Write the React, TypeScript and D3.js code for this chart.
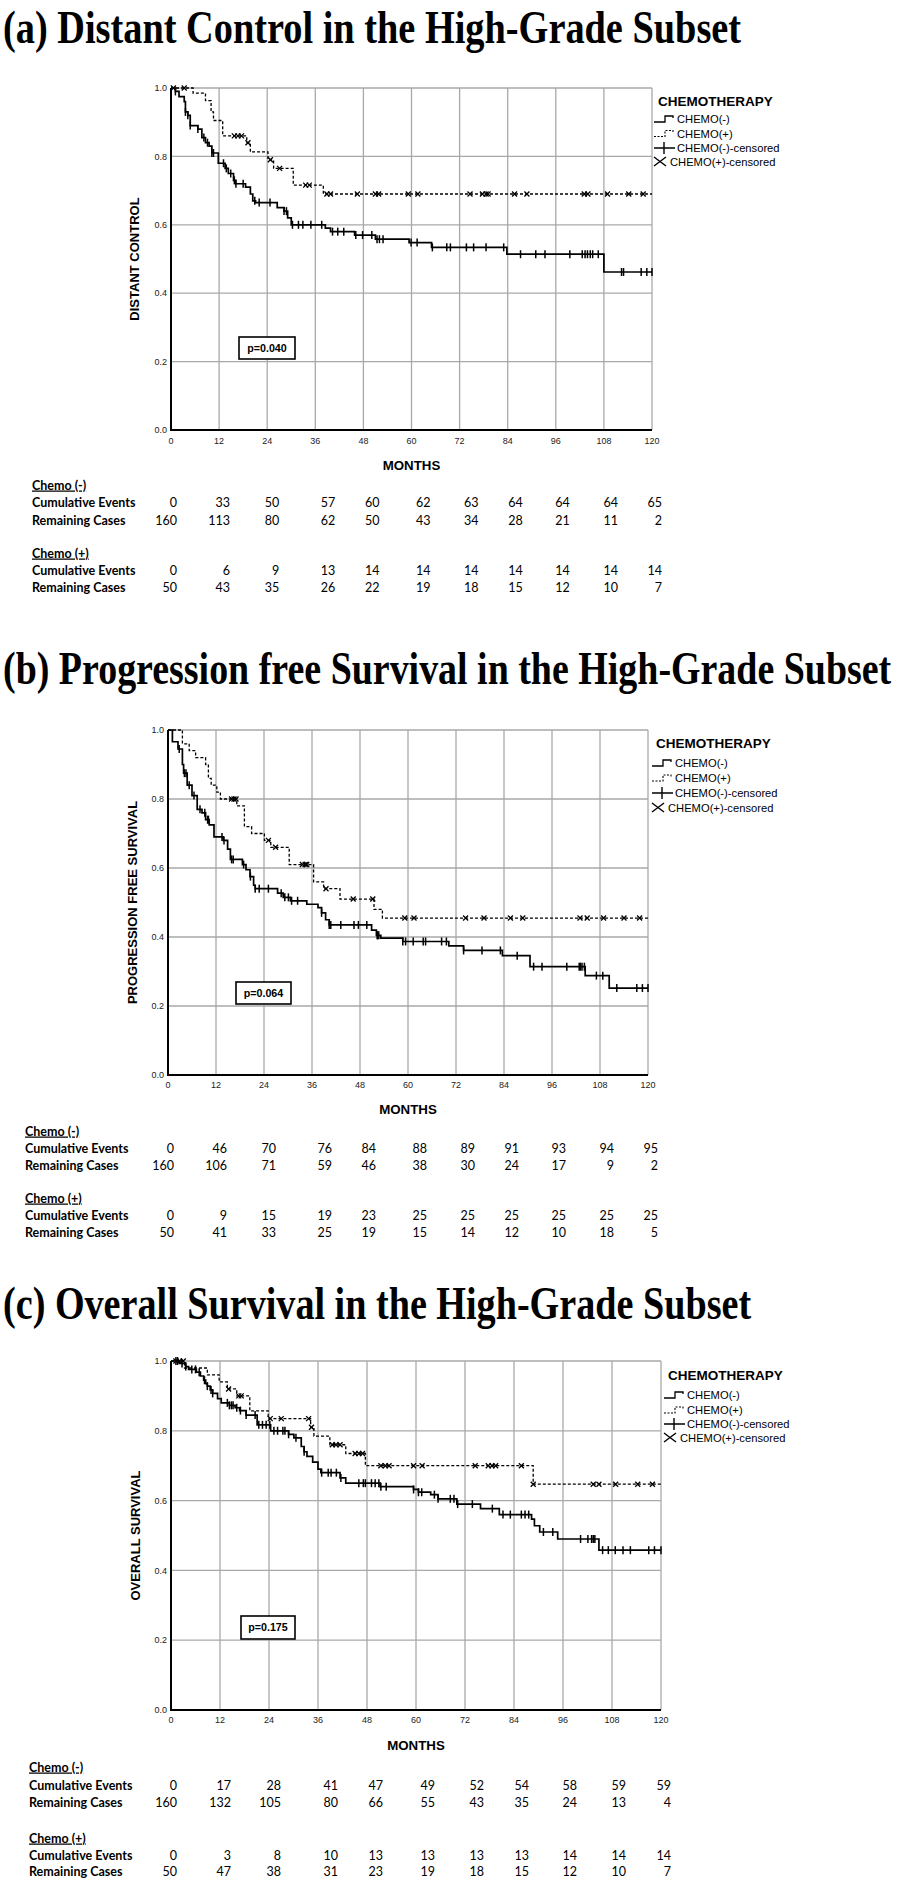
import React from 'react';
import * as d3 from 'd3';

// ---------- shared ticks ----------
const monthTicks = [0, 12, 24, 36, 48, 60, 72, 84, 96, 108, 120];
const survTicks = [0, 0.2, 0.4, 0.6, 0.8, 1.0];
const legendLabels = ['CHEMO(-)', 'CHEMO(+)', 'CHEMO(-)-censored', 'CHEMO(+)-censored'];
const tableRowLabels = ['Cumulative Events', 'Remaining Cases'];

// ---------- (a) Distant control ----------
const dcNegT = [1.1, 2, 3.3, 3.6, 4.2, 4.8, 6.7, 7.7, 8.6, 9.5, 10.2, 11.8, 13.5, 14.3, 15.6, 16.1, 18.6, 19.8, 20.4, 21.1, 26.5, 28.2, 29.1, 30, 38.5, 39.8, 45.8, 51, 59.4, 65, 83.8, 108];
const dcNegS = [0.99, 0.975, 0.96, 0.93, 0.92, 0.89, 0.88, 0.855, 0.84, 0.83, 0.81, 0.78, 0.765, 0.75, 0.73, 0.72, 0.71, 0.69, 0.67, 0.665, 0.65, 0.64, 0.62, 0.60, 0.59, 0.58, 0.57, 0.558, 0.548, 0.534, 0.514, 0.462];
const dcNegC = [1.1, 3.6, 4.2, 4.8, 6.7, 8.2, 9.1, 10.2, 10.6, 13.1, 13.8, 14.9, 15.8, 16.2, 18.0, 20.9, 22.0, 24.7, 28.2, 28.8, 30.3, 31.8, 32.9, 34.9, 37.6, 40.3, 41.6, 43.1, 46.1, 47.8, 50.1, 51.4, 52.0, 52.9, 59.9, 61.4, 65.2, 68.8, 69.7, 73.7, 75.5, 78.6, 83.0, 87.2, 91.0, 93.3, 99.5, 102.6, 103.3, 103.9, 104.6, 105.2, 106.6, 112.4, 112.9, 117.3, 118.7, 120];
const dcPosT = [5.5, 8.6, 10, 10.6, 12.9, 18.9, 19.8, 24.2, 25.6, 30.5, 38];
const dcPosS = [0.985, 0.963, 0.93, 0.905, 0.86, 0.84, 0.813, 0.79, 0.765, 0.716, 0.69];
const dcPosC = [0.6, 3.3, 15.8, 16.7, 17.6, 19.2, 24.8, 27.1, 33.6, 34.5, 38.9, 39.8, 46.5, 51, 51.8, 59.2, 61.6, 74.6, 77.7, 78.6, 79.1, 85.7, 88.8, 103.1, 104, 108.9, 114.2, 117.8];
const dcNegEvents = [0, 33, 50, 57, 60, 62, 63, 64, 64, 64, 65];
const dcNegRemain = [160, 113, 80, 62, 50, 43, 34, 28, 21, 11, 2];
const dcPosEvents = [0, 6, 9, 13, 14, 14, 14, 14, 14, 14, 14];
const dcPosRemain = [50, 43, 35, 26, 22, 19, 18, 15, 12, 10, 7];

// ---------- (b) Progression free survival ----------
const pfsNegT = [1.1, 2.5, 3.6, 3.9, 4.8, 6.0, 7.3, 8.5, 9.4, 10.3, 11.5, 13.8, 14.9, 15.6, 18.6, 19.5, 20.5, 21.4, 21.8, 27.4, 28.8, 30.6, 34.7, 37.5, 38.4, 39.4, 40.3, 50.9, 52.1, 53.2, 58.7, 70.2, 73.9, 83.6, 90.5, 104.3, 110.3];
const pfsNegS = [0.966, 0.945, 0.90, 0.875, 0.84, 0.81, 0.77, 0.76, 0.74, 0.725, 0.69, 0.68, 0.655, 0.625, 0.61, 0.595, 0.575, 0.55, 0.54, 0.527, 0.515, 0.505, 0.495, 0.485, 0.47, 0.45, 0.435, 0.42, 0.405, 0.397, 0.387, 0.374, 0.361, 0.346, 0.314, 0.288, 0.252];
const pfsNegC = [2.8, 4.1, 4.5, 5.3, 6.5, 8.0, 9.2, 9.9, 10.1, 13.5, 14.0, 15.9, 16.3, 18.9, 20.6, 21.8, 22.8, 25.1, 28.3, 29.2, 30.1, 30.9, 32.4, 38.4, 40.3, 40.7, 43.2, 46.5, 47.6, 49.7, 52.3, 52.4, 52.7, 58.7, 59.4, 61.3, 63.8, 64.4, 68.4, 69.6, 73.9, 78.5, 83.1, 87.3, 91.4, 93.5, 99.7, 102.8, 103.1, 103.5, 104.1, 107.1, 108.7, 112.2, 117.2, 118.6, 120];
const pfsPosT = [3.6, 5.3, 6.9, 9.4, 10.1, 10.8, 12.2, 13.1, 17.2, 19.1, 20.9, 24.1, 25.7, 30.3, 36.4, 38.9, 43.0, 51.5, 53.6];
const pfsPosS = [0.96, 0.94, 0.92, 0.90, 0.86, 0.84, 0.82, 0.80, 0.78, 0.72, 0.70, 0.68, 0.66, 0.61, 0.56, 0.54, 0.51, 0.48, 0.455];
const pfsPosC = [15.9, 16.5, 17.0, 25.1, 26.9, 33.6, 34.3, 34.7, 39.5, 46.3, 51.2, 59.2, 61.5, 74.4, 79.0, 85.6, 88.7, 103, 104.8, 108.9, 114, 117.9];
const pfsNegEvents = [0, 46, 70, 76, 84, 88, 89, 91, 93, 94, 95];
const pfsNegRemain = [160, 106, 71, 59, 46, 38, 30, 24, 17, 9, 2];
const pfsPosEvents = [0, 9, 15, 19, 23, 25, 25, 25, 25, 25, 25];
const pfsPosRemain = [50, 41, 33, 25, 19, 15, 14, 12, 10, 18, 5];

// ---------- (c) Overall survival ----------
const osNegT = [2.1, 3.6, 4.3, 6.2, 7.2, 8.0, 8.5, 8.9, 9.6, 10.2, 11.4, 12.3, 14.3, 15.7, 16.8, 18.4, 21.1, 24.4, 28.8, 30.1, 31.9, 32.6, 33.3, 34.7, 36.0, 36.7, 41.4, 42.8, 51.2, 59.4, 60.6, 63.6, 65.4, 70.0, 75.8, 80.4, 88.3, 89.0, 90.3, 94.7, 104.8];
const osNegS = [0.993, 0.984, 0.976, 0.968, 0.957, 0.945, 0.935, 0.928, 0.917, 0.907, 0.892, 0.88, 0.873, 0.866, 0.858, 0.845, 0.817, 0.80, 0.79, 0.78, 0.755, 0.74, 0.727, 0.71, 0.69, 0.68, 0.665, 0.65, 0.64, 0.632, 0.624, 0.617, 0.605, 0.59, 0.577, 0.56, 0.547, 0.528, 0.51, 0.49, 0.458];
const osNegC = [1.2, 1.6, 2.7, 3.6, 5.1, 6.0, 6.9, 8.2, 8.9, 9.8, 10.2, 13.8, 14.3, 14.8, 15.2, 16.1, 17.0, 18.4, 20.6, 21.5, 22.4, 23.3, 24.2, 25.2, 26.1, 27.4, 27.9, 28.8, 30.6, 32.6, 36.9, 38.5, 39.2, 40.5, 41.6, 46.0, 47.1, 47.6, 49.1, 50.0, 50.9, 51.4, 52.7, 59.4, 60.6, 61.4, 64.5, 65.4, 68.4, 69.3, 70.2, 73.8, 78.7, 81.3, 83.1, 85.8, 86.7, 87.6, 91.2, 93.5, 100.3, 102.1, 103.0, 103.4, 103.8, 105.7, 107.1, 108.8, 110.7, 112.5, 117.0, 118.4, 120];
const osPosT = [3.3, 8.9, 11.8, 13.8, 16.1, 19.3, 23.8, 34.2, 35.0, 38.9, 42.8, 47.6, 88.7];
const osPosS = [0.98, 0.96, 0.94, 0.92, 0.90, 0.857, 0.835, 0.81, 0.785, 0.76, 0.735, 0.70, 0.647];
const osPosC = [1.2, 2.1, 3.0, 14.1, 16.6, 17.2, 24.3, 27.0, 33.7, 34.4, 39.5, 40.4, 41.4, 45.1, 46.0, 46.9, 51.4, 52.5, 53.4, 59.4, 61.5, 74.5, 77.7, 78.6, 79.5, 85.8, 88.7, 103.4, 104.8, 108.9, 114.3, 117.9];
const osNegEvents = [0, 17, 28, 41, 47, 49, 52, 54, 58, 59, 59];
const osNegRemain = [160, 132, 105, 80, 66, 55, 43, 35, 24, 13, 4];
const osPosEvents = [0, 3, 8, 10, 13, 13, 13, 13, 14, 14, 14];
const osPosRemain = [50, 47, 38, 31, 23, 19, 18, 15, 12, 10, 7];

// ---------- panel configs (layout + references to data) ----------
const colShift = [6, 11, 12, 20, 16, 19, 19, 15, 14, 14, 10];

const panels = [
  {
    id: 'a', title: '(a) Distant Control in the High-Grade Subset', titleBase: 43, titleW: 738,
    ylabel: 'DISTANT CONTROL', pText: 'p=0.040', pBox: [239, 337, 56, 22],
    left: 171, right: 652, top: 88, bottom: 430, ylabX: 134, legX: 658, legTitleY: 101, legY: [119, 133.5, 148, 162],
    monthsY: 465, tickY: 441, tableX: 32, rows: [485, 502.5, 520, 553, 570, 587],
    neg: { t: dcNegT, s: dcNegS, c: dcNegC }, pos: { t: dcPosT, s: dcPosS, c: dcPosC },
    table: [dcNegEvents, dcNegRemain, dcPosEvents, dcPosRemain],
  },
  {
    id: 'b', title: '(b) Progression free Survival in the High-Grade Subset', titleBase: 684, titleW: 888,
    ylabel: 'PROGRESSION FREE SURVIVAL', pText: 'p=0.064', pBox: [236, 982, 55, 22],
    left: 168, right: 648, top: 730, bottom: 1075, ylabX: 132, legX: 656, legTitleY: 743, legY: [763, 778, 793, 808],
    monthsY: 1109, tickY: 1085, tableX: 25, rows: [1131, 1148, 1165, 1198, 1215, 1232],
    neg: { t: pfsNegT, s: pfsNegS, c: pfsNegC }, pos: { t: pfsPosT, s: pfsPosS, c: pfsPosC },
    table: [pfsNegEvents, pfsNegRemain, pfsPosEvents, pfsPosRemain],
  },
  {
    id: 'c', title: '(c) Overall Survival in the High-Grade Subset', titleBase: 1319, titleW: 748,
    ylabel: 'OVERALL SURVIVAL', pText: 'p=0.175', pBox: [241, 1616, 54, 23],
    left: 171, right: 661, top: 1361, bottom: 1710, ylabX: 135, legX: 668, legTitleY: 1375, legY: [1395, 1410, 1424, 1438],
    monthsY: 1745, tickY: 1720, tableX: 29, rows: [1767, 1785, 1802, 1838, 1855, 1871],
    neg: { t: osNegT, s: osNegS, c: osNegC }, pos: { t: osPosT, s: osPosS, c: osPosC },
    table: [osNegEvents, osNegRemain, osPosEvents, osPosRemain],
  },
];

const SANS = '"Liberation Sans", Arial, sans-serif';
const TABLE_FONT = 'Lato, "Open Sans", sans-serif';
const GRID = '#a9a9a9';

function stepPts(t: number[], s: number[]): [number, number][] {
  const pts: [number, number][] = [[0, 1]];
  t.forEach((tt, i) => pts.push([tt, s[i]]));
  pts.push([120, s[s.length - 1]]);
  return pts;
}
function survAt(t: number[], s: number[], at: number) {
  let v = 1;
  for (let i = 0; i < t.length; i++) if (t[i] <= at) v = s[i];
  return v;
}

// Condensed title: measure natural width, then scale horizontally to the target width
function FitTitle({ x, y, width, text }: { x: number; y: number; width: number; text: string }) {
  const ref = React.useRef<SVGTextElement>(null);
  const [sx, setSx] = React.useState(0.7);
  React.useLayoutEffect(() => {
    if (ref.current) {
      const w = ref.current.getComputedTextLength();
      if (w > 0) setSx(width / w);
    }
  }, [width, text]);
  return (
    <text ref={ref} transform={`translate(${x},${y}) scale(${sx},1)`} x={0} y={0}
      fontFamily='"Liberation Serif", "Times New Roman", serif' fontWeight="bold" fontSize={46}>{text}</text>
  );
}

function Panel({ cfg }: { cfg: any }) {
  const x = d3.scaleLinear().domain([0, 120]).range([cfg.left, cfg.right]);
  const y = d3.scaleLinear().domain([0, 1]).range([cfg.bottom, cfg.top]);
  const line = d3.line<[number, number]>().x(d => x(d[0])).y(d => y(d[1])).curve(d3.curveStepAfter);
  const negPath = line(stepPts(cfg.neg.t, cfg.neg.s)) || '';
  const posPath = line(stepPts(cfg.pos.t, cfg.pos.s)) || '';
  const midX = (cfg.left + cfg.right) / 2;
  const midY = (cfg.top + cfg.bottom) / 2;
  const L = cfg.legX;
  const [bx, by, bw, bh] = cfg.pBox;
  const rowLabels = ['Chemo (-)', tableRowLabels[0], tableRowLabels[1], 'Chemo (+)', tableRowLabels[0], tableRowLabels[1]];
  const rowData = [null, cfg.table[0], cfg.table[1], null, cfg.table[2], cfg.table[3]];
  return (
    <g>
      <FitTitle x={3} y={cfg.titleBase} width={cfg.titleW} text={cfg.title} />

      {/* grid */}
      {monthTicks.map(m => (
        <line key={'v' + m} x1={x(m)} x2={x(m)} y1={cfg.top} y2={cfg.bottom} stroke={GRID} strokeWidth={1.3} />
      ))}
      {survTicks.map(v => (
        <line key={'h' + v} x1={cfg.left} x2={cfg.right} y1={y(v)} y2={y(v)} stroke={GRID} strokeWidth={1.3} />
      ))}
      {/* axes */}
      <line x1={cfg.left} x2={cfg.left} y1={cfg.top} y2={cfg.bottom + 1} stroke="#000" strokeWidth={2} />
      <line x1={cfg.left - 1} x2={cfg.right} y1={cfg.bottom} y2={cfg.bottom} stroke="#000" strokeWidth={2} />

      {/* tick labels */}
      {monthTicks.map(m => (
        <text key={'xt' + m} x={x(m)} y={cfg.tickY + 3.2} textAnchor="middle" fontFamily={SANS} fontSize={9} fill="#222">{m}</text>
      ))}
      {survTicks.map(v => (
        <text key={'yt' + v} x={cfg.left - 4} y={y(v) + 3.2} textAnchor="end" fontFamily={SANS} fontSize={9} fill="#222">{v.toFixed(1)}</text>
      ))}
      <text x={midX} y={cfg.monthsY + 4.8} textAnchor="middle" fontFamily={SANS} fontWeight="bold" fontSize={13.3}>MONTHS</text>
      <text transform={`translate(${cfg.ylabX + 4.8},${midY}) rotate(-90)`} textAnchor="middle" fontFamily={SANS} fontWeight="bold" fontSize={13}>{cfg.ylabel}</text>

      {/* curves */}
      <path d={posPath} fill="none" stroke="#000" strokeWidth={1.3} strokeDasharray="3,2" />
      <path d={negPath} fill="none" stroke="#000" strokeWidth={1.7} />
      {cfg.neg.c.map((c: number, i: number) => {
        const cx = x(c), cy = y(survAt(cfg.neg.t, cfg.neg.s, c));
        return <line key={'nc' + i} x1={cx} x2={cx} y1={cy - 4} y2={cy + 4} stroke="#000" strokeWidth={1.5} />;
      })}
      {cfg.pos.c.map((c: number, i: number) => {
        const cx = x(c), cy = y(survAt(cfg.pos.t, cfg.pos.s, c));
        return (
          <path key={'pc' + i} d={`M${cx - 2.5},${cy - 2.5}L${cx + 2.5},${cy + 2.5}M${cx - 2.5},${cy + 2.5}L${cx + 2.5},${cy - 2.5}`} stroke="#000" strokeWidth={1.3} />
        );
      })}

      {/* p-value box */}
      <rect x={bx} y={by} width={bw} height={bh} fill="#fff" stroke="#000" strokeWidth={1.6} />
      <text x={bx + bw / 2} y={by + bh / 2 + 3.8} textAnchor="middle" fontFamily={SANS} fontWeight="bold" fontSize={10.7}>{cfg.pText}</text>

      {/* legend */}
      <text x={L} y={cfg.legTitleY + 4.9} fontFamily={SANS} fontWeight="bold" fontSize={13.5}>CHEMOTHERAPY</text>
      <path d={`M${L - 4},${cfg.legY[0] + 3}H${L + 7}V${cfg.legY[0] - 3}H${L + 15}V${cfg.legY[0] - 1}`} fill="none" stroke="#000" strokeWidth={1.3} />
      <path d={`M${L - 4},${cfg.legY[1] + 3}H${L + 7}V${cfg.legY[1] - 3}H${L + 15}V${cfg.legY[1] - 1}`} fill="none" stroke="#000" strokeWidth={1.1} strokeDasharray="2,1.5" />
      <path d={`M${L - 4},${cfg.legY[2]}H${L + 17}M${L + 6},${cfg.legY[2] - 6}V${cfg.legY[2] + 6}`} fill="none" stroke="#000" strokeWidth={1.4} />
      <path d={`M${L - 4},${cfg.legY[3] - 5}L${L + 8},${cfg.legY[3] + 4}M${L - 4},${cfg.legY[3] + 4}L${L + 8},${cfg.legY[3] - 5}`} fill="none" stroke="#000" strokeWidth={1.4} />
      {legendLabels.map((lab, i) => (
        <text key={'lg' + i} x={i === 3 ? L + 12 : L + 19} y={cfg.legY[i] + 4} fontFamily={SANS} fontSize={11.2}>{lab}</text>
      ))}

      {/* risk table */}
      {rowLabels.map((lab, r) => (
        <g key={'row' + r}>
          <text x={cfg.tableX} y={cfg.rows[r] + 4.5} fontFamily={TABLE_FONT} fontWeight="bold" fontSize={12.5}
            textDecoration={rowData[r] ? undefined : 'underline'}>{lab}</text>
          {rowData[r] && (rowData[r] as number[]).map((v, k) => (
            <text key={'tv' + k} x={x(monthTicks[k]) + colShift[k]} y={cfg.rows[r] + 4.5} textAnchor="end" fontFamily={TABLE_FONT} fontSize={12.5}>{v}</text>
          ))}
        </g>
      ))}
    </g>
  );
}

export default function App() {
  return (
    <svg width={898} height={1878} viewBox="0 0 898 1878" style={{ position: 'absolute', left: 0, top: 0, background: '#fff' }}>
      <rect x={0} y={0} width={898} height={1878} fill="#fff" />
      {panels.map(p => <Panel key={p.id} cfg={p} />)}
    </svg>
  );
}
